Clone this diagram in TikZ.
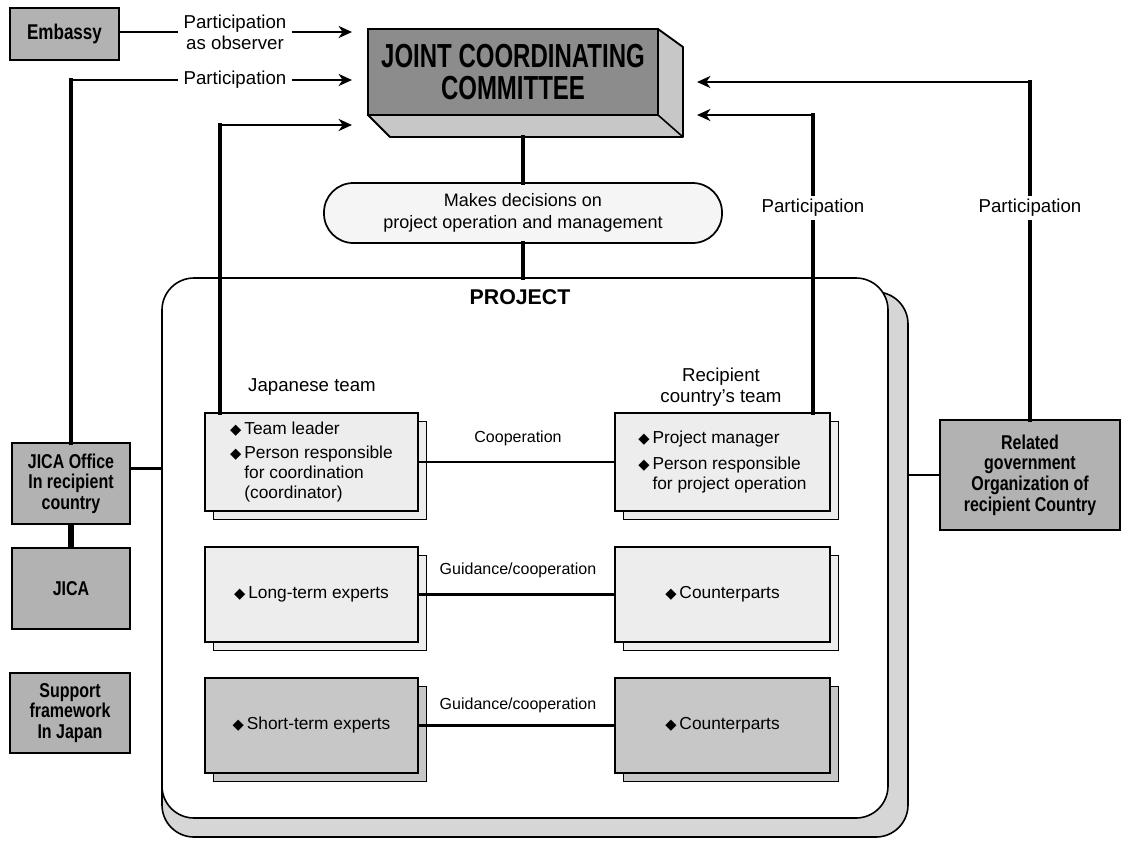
\documentclass[tikz,border=0pt]{standalone}
\usepackage{fontspec}
\setmainfont{Liberation Sans}
\newfontfamily\condb[FakeStretch=0.8]{Liberation Sans Bold}
\newfontfamily\cmtf[FakeStretch=0.72]{Liberation Sans Bold}
\newfontfamily\symf{DejaVu Sans}
\usetikzlibrary{arrows.meta,calc,shadows}
\newcommand\diam{{\symf\fontsize{11}{11}\selectfont ◆}\,}
\begin{document}
\begin{tikzpicture}[x=0.75pt,y=-0.75pt,
  bx/.style n args={4}{at={({(#1+#3)/2},{(#2+#4)/2})}, minimum width={(#3-#1)*0.75pt}, minimum height={(#4-#2)*0.75pt}, inner sep=0pt, outer sep=0pt},
  gbox/.style={draw, line width=1.4pt, fill=black!30, align=center, font=\condb\fontsize{15}{15.5}\selectfont},
  tbox/.style={draw, line width=1.2pt, fill=#1, align=left, font=\fontsize{13}{15}\selectfont,
    copy shadow={shadow xshift=6.5pt, shadow yshift=-6.5pt, draw, fill=#1, line width=1.2pt}},
  tbox/.default=black!7,
  lbl/.style={inner sep=4pt, align=center, font=\fontsize{14}{15.5}\selectfont},
  clbl/.style={inner sep=2pt, font=\fontsize{12}{14}\selectfont},
  hconn/.style={line width=2.2pt},
  vconn/.style={line width=3.4pt, line cap=rect},
  arr/.style={line width=2.2pt, -{Stealth[length=10pt,width=9pt,inset=3pt]}}
]
\fill[white] (0,0) rectangle (1122,840);
\useasboundingbox (0,0) rectangle (1122,840);

% project frame
\node[bx={162}{292}{908}{837}, draw, line width=1.2pt, fill=black!16, rounded corners=24pt] (projb) {};
\node[bx={162}{278}{888}{818}, draw, line width=1.2pt, fill=white, rounded corners=24pt] (proj) {};

% committee
\draw[line width=1.4pt, fill=black!22, line join=round] (658,29) -- (683,47) -- (683,137) -- (390,137) -- (368,115) -- (658,115) -- cycle;
\draw[line width=1.2pt] (658,115) -- (683,137);
\node[bx={368}{29}{658}{115}, draw, line width=1.6pt, fill=black!45, align=center,
  font=\cmtf\fontsize{25}{24}\selectfont] (cmt) {JOINT COORDINATING\\COMMITTEE};

% left boxes
\node[gbox, bx={10}{8}{119}{60}, font=\condb\fontsize{16}{16}\selectfont] (emb) {Embassy};
\node[gbox, bx={12}{443}{130}{524}] (jo) {JICA Office\\In recipient\\country};
\node[gbox, bx={12}{548}{130}{629}] (ji) {JICA};
\node[gbox, bx={10}{673}{130}{753}] (sf) {Support\\framework\\In Japan};
\node[gbox, bx={940}{420}{1120}{530}] (rg) {Related\\government\\Organization of\\recipient Country};

% oval
\node[bx={324}{183}{722}{243}, draw, line width=1.3pt, fill=black!4, rounded corners=22pt,
  align=center, font=\fontsize{13.5}{16}\selectfont] (ov) {Makes decisions on\\project operation and management};

% labels
\node[lbl] (l1) at (235,32) {Participation\\as observer};
\node[lbl] (l2) at (235,80) {Participation};
\node[lbl] (p1) at (813,208) {Participation};
\node[lbl] (p2) at (1030,208) {Participation};
\node[font=\bfseries\fontsize{16}{18}\selectfont] (ptitle) at (520,297) {PROJECT};
\node[font=\fontsize{14}{16}\selectfont] (jt) at (312,387) {Japanese team};
\node[align=center, font=\fontsize{14}{16}\selectfont] (rt) at (721,387) {Recipient\\country's team};

% team boxes
\node[tbox, bx={205}{413}{418}{511}] (j1) {\diam Team leader\\[3pt]\diam Person responsible\\\hphantom{\diam}for coordination\\\hphantom{\diam}(coordinator)};
\node[tbox, bx={615}{413}{830}{511}] (r1) {\diam Project manager\\[5pt]\diam Person responsible\\\hphantom{\diam}for project operation};
\node[tbox, bx={205}{547}{418}{642}] (j2) {\diam Long-term experts};
\node[tbox, bx={615}{547}{830}{642}] (r2) {\diam Counterparts};
\node[tbox=black!22, bx={205}{678}{418}{773}] (j3) {\diam Short-term experts};
\node[tbox=black!22, bx={615}{678}{830}{773}] (r3) {\diam Counterparts};

\node[clbl] (c1) at (518,438) {Cooperation};
\node[clbl] (c2) at (518,570) {Guidance/cooperation};
\node[clbl] (c3) at (518,705) {Guidance/cooperation};

% connectors between teams
\draw[hconn] (j1.east) -- (r1.west);
\draw[hconn] (j2.east) -- (r2.west);
\draw[hconn] (j3.east) -- (r3.west);

% coordinates for free ends
\coordinate (tipL) at (352,0);
\coordinate (tipR) at (697,0);
\coordinate (t3) at (352,125);
\coordinate (h4) at (0,115);
\coordinate (h5) at (0,82);
\coordinate (cb) at (0,137);
\coordinate (jv) at ($(j1.north west)+(15,0)$);

% left participation
\draw[hconn] (emb.east |- l1.west) -- (l1.west);
\draw[arr] (l1.east) -- (l1.east -| tipL);
\draw[vconn] (jo.north) -- (jo.north |- l2.west);
\draw[hconn] (jo.north |- l2.west) -- (l2.west);
\draw[arr] (l2.east) -- (l2.east -| tipL);
\draw[vconn] (jv) -- (jv |- t3);
\draw[arr] (jv |- t3) -- (t3);

% right participation
\draw[vconn] (p1.south |- r1.north) -- (p1.south);
\draw[vconn] (p1.north) -- (p1.north |- h4);
\draw[arr] (p1.north |- h4) -- (tipR |- h4);
\draw[vconn] (rg.north) -- (p2.south);
\draw[vconn] (p2.north) -- (p2.north |- h5);
\draw[arr] (p2.north |- h5) -- (tipR |- h5);

% committee - oval - project
\draw[vconn] (ov.north) -- (ov.north |- cb);
\draw[vconn] (ov.south) -- (ov.south |- proj.north);

% JICA connectors
\draw[line width=5pt] (jo.south) -- (ji.north);
\coordinate (jo1) at ($(jo.east)+(0,-15)$);
\draw[hconn] (jo1) -- (jo1 -| proj.west);
\draw[hconn] (rg.west) -- (rg.west -| projb.east);
\end{tikzpicture}
\end{document}
